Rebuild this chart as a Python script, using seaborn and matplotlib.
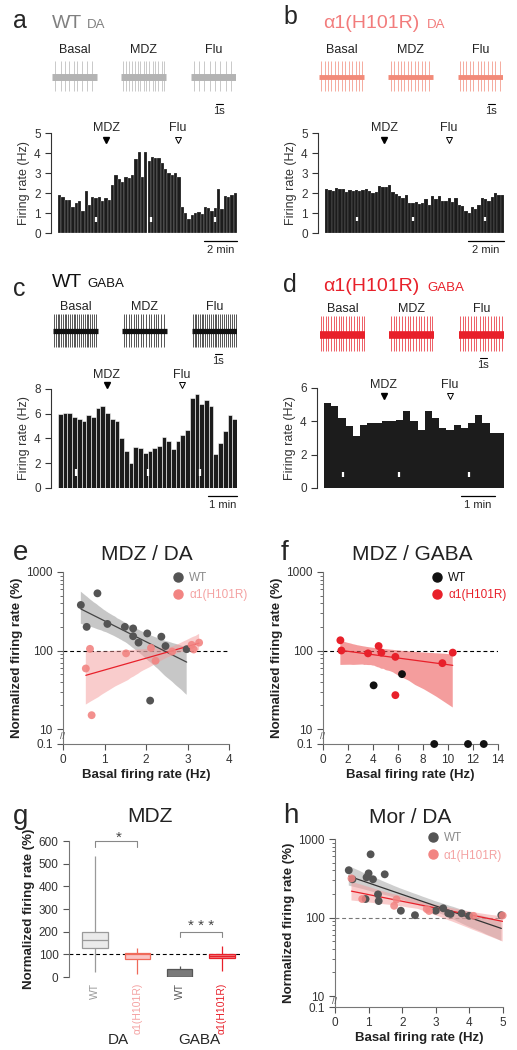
import numpy as np
import pandas as pd
import matplotlib
matplotlib.use("Agg")
import matplotlib.pyplot as plt
import seaborn as sns
from matplotlib.lines import Line2D

W, H = 517, 1050

# firing rate histograms (Hz per bin)
a_rate = [1.9, 1.8, 1.65, 1.65, 1.3, 1.5, 1.6, 1.1, 2.1, 1.4, 1.8, 1.75, 1.8, 1.6, 1.75, 1.65,
          2.4, 2.9, 2.7, 2.55, 2.8, 2.75, 2.9, 3.7, 4.05, 2.8, 4.05, 3.6, 3.8, 3.75, 3.75, 3.5,
          3.2, 3.0, 2.9, 3.0, 2.8, 1.3, 1.0, 0.7, 0.9, 1.0, 1.05, 0.95, 1.3, 1.25, 1.1, 1.25,
          2.2, 1.2, 1.85, 1.8, 1.9, 2.0]
b_rate = [2.2, 2.15, 2.1, 2.25, 2.2, 2.2, 2.05, 2.15, 2.1, 2.15, 2.1, 2.15, 2.2, 2.1, 2.0, 2.05,
          2.35, 2.3, 2.3, 2.4, 2.05, 1.95, 1.85, 1.75, 1.9, 1.5, 1.5, 1.55, 1.45, 1.5, 1.7, 1.4,
          1.85, 1.7, 1.85, 1.6, 1.6, 1.75, 1.55, 1.75, 1.4, 1.35, 1.1, 1.0, 1.3, 1.2, 1.4, 1.75,
          1.7, 1.6, 1.8, 2.0, 1.9, 1.9]
c_rate = [5.95, 6.1, 6.05, 5.75, 5.6, 5.45, 5.9, 5.7, 6.5, 6.6, 6.1, 5.55, 5.45, 4.05, 2.95,
          2.0, 3.3, 3.25, 2.85, 2.95, 3.2, 3.4, 4.1, 3.8, 3.15, 3.8, 4.25, 4.7, 7.3, 7.6, 6.8,
          7.15, 6.65, 2.75, 3.6, 4.6, 5.9, 5.6]
d_rate = [5.1, 4.9, 4.2, 3.7, 3.1, 3.8, 3.9, 3.9, 4.0, 4.0, 4.1, 4.6, 4.0, 3.5, 4.6, 4.2, 3.6,
          3.5, 3.8, 3.6, 3.9, 4.4, 3.9, 3.3, 3.3]

# spike times in the example traces (s)
a_spikes = [[0.5, 1.3, 1.9, 2.4, 3.2, 3.7, 4.4, 5.1, 5.8],
            [0.3, 0.8, 1.2, 1.6, 2.0, 2.5, 2.8, 3.3, 3.7, 4.1, 4.6, 5.0, 5.4, 5.9, 6.3],
            [0.4, 1.1, 1.9, 2.7, 3.5, 4.2, 5.0, 5.8]]
b_spikes = [[0.3, 0.8, 1.3, 1.8, 2.3, 2.8, 3.3, 3.8, 4.3, 4.8, 5.3, 5.8, 6.3],
            [0.4, 0.9, 1.4, 1.9, 2.4, 2.9, 3.4, 3.9, 4.4, 4.9, 5.4, 5.9],
            [0.2, 0.7, 1.2, 1.7, 2.2, 2.8, 3.3, 3.8, 4.3, 4.9, 5.4, 6.0]]
c_spikes = [[0.2, 0.4, 0.7, 0.9, 1.2, 1.4, 1.7, 1.9, 2.2, 2.5, 2.7, 3.0, 3.2, 3.5, 3.8, 4.0,
             4.3, 4.6, 4.9, 5.1, 5.4, 5.7, 6.0, 6.3],
            [0.3, 0.6, 1.0, 1.3, 1.7, 2.0, 2.4, 2.8, 3.1, 3.5, 3.9, 4.2, 4.6, 5.0, 5.3, 5.7, 6.1],
            [0.1, 0.35, 0.6, 0.9, 1.1, 1.4, 1.6, 1.9, 2.2, 2.4, 2.7, 3.0, 3.3, 3.5, 3.8, 4.1,
             4.3, 4.6, 4.9, 5.2, 5.5, 5.8, 6.1, 6.4]]
d_spikes = [[0.2, 0.5, 0.9, 1.2, 1.6, 2.0, 2.3, 2.7, 3.0, 3.4, 3.8, 4.2, 4.5, 4.9, 5.3, 5.7, 6.1, 6.4],
            [0.3, 0.7, 1.1, 1.5, 1.9, 2.3, 2.7, 3.1, 3.5, 3.9, 4.3, 4.7, 5.1, 5.5, 5.9, 6.3],
            [0.1, 0.5, 0.9, 1.3, 1.7, 2.1, 2.5, 3.0, 3.4, 3.8, 4.2, 4.6, 5.0, 5.4, 5.8, 6.2]]

# MDZ / DA
e_wt_x = [0.43, 0.83, 0.57, 1.07, 1.49, 1.69, 1.69, 1.82, 2.03, 2.37, 2.47, 2.98, 2.10]
e_wt_y = [380, 535, 200, 218, 200, 191, 152, 126, 165, 150, 114, 104, 23]
e_mut_x = [0.55, 0.65, 0.69, 1.52, 2.12, 2.23, 2.63, 3.10, 3.15, 3.28]
e_mut_y = [59, 105, 15, 92, 108, 74, 97, 118, 103, 126]
# MDZ / GABA
f_wt_x = [4.05, 6.32, 8.9, 11.6, 12.86]
f_wt_y = [36, 50, 0.1, 0.1, 0.1]
f_mut_x = [1.39, 1.47, 3.6, 4.45, 4.67, 5.79, 5.79, 9.55, 10.38]
f_mut_y = [135, 100, 92, 114, 94, 83, 27, 69, 94]
# Mor / DA
h_wt_x = [0.41, 1.06, 0.52, 1.00, 0.94, 1.13, 1.48, 1.28, 1.30, 0.91, 1.96, 2.38, 3.00, 3.22,
          3.37, 3.44, 3.77, 3.99, 4.95]
h_wt_y = [400, 638, 307, 365, 325, 307, 355, 197, 162, 172, 122, 107, 122, 131, 113, 111, 113,
          105, 107]
h_mut_x = [0.49, 0.81, 1.76, 1.83, 2.73, 2.80, 4.12, 4.99]
h_mut_y = [315, 172, 141, 170, 128, 121, 105, 106]

g_labels = ["WT", "α1(H101R)", "WT", "α1(H101R)"]

GRAY_PT = "#545454"
PINK = "#f28482"
RED = "#e8202a"

sns.set_style("ticks")
plt.rcParams["font.family"] = ["Liberation Sans", "DejaVu Sans"]
plt.rcParams["axes.linewidth"] = 0.8
plt.rcParams["xtick.labelsize"] = 8.5
plt.rcParams["ytick.labelsize"] = 8.5
plt.rcParams["xtick.color"] = "#555"
plt.rcParams["ytick.color"] = "#555"
plt.rcParams["xtick.labelcolor"] = "#333"
plt.rcParams["ytick.labelcolor"] = "#333"

fig = plt.figure(figsize=(W / 100, H / 100), dpi=100)


def box(x0, y0, x1, y1):
    return [x0 / W, 1 - y1 / H, (x1 - x0) / W, (y1 - y0) / H]


def ftext(x, y, s, **kw):
    kw.setdefault("va", "baseline")
    fig.text(x / W, 1 - y / H, s, **kw)


def traces(rect, spikes, color, band_lw, lbl_y, sb_x, sb_y, sb_ty):
    ax = fig.add_axes(rect)
    ax.set_xlim(0, 26.7)
    ax.set_ylim(-1, 1)
    ax.axis("off")
    tr = ax.get_xaxis_transform()
    for off, name, spk in zip([0, 10, 20.2], ["Basal", "MDZ", "Flu"], spikes):
        ax.plot([off, off + 6.5], [0, 0], color=color, lw=band_lw, solid_capstyle="butt")
        ax.vlines([off + t for t in spk], -0.85, 0.95, color=color, lw=0.5)
        ax.text(off + 3.25, lbl_y, name, transform=tr, ha="center", va="bottom",
                fontsize=9, color="#222")
    ax.plot([sb_x, sb_x + 1], [sb_y, sb_y], transform=tr, color="k", lw=0.8, clip_on=False)
    ax.text(sb_x + 0.5, sb_ty, "1s", transform=tr, ha="center", va="top", fontsize=8)


def firing_hist(rect, rates, ymax, step, mdz_x, flu_x, txt_y, arr_y, marks, mlo, mhi,
                sb, sb_label, gap_lw=0.0):
    ax = fig.add_axes(rect)
    n = len(rates)
    sns.barplot(x=list(range(n)), y=rates, orient="x", color="#1c1c1c", saturation=1,
                width=1.0, edgecolor="white", linewidth=gap_lw, ax=ax)
    ax.set_xlim(-0.5, n - 0.5)
    ax.set_ylim(0, ymax)
    ax.set_yticks(np.arange(0, ymax + 0.01, step))
    ax.set_xticks([])
    ax.set_xlabel("")
    ax.set_ylabel("Firing rate (Hz)", fontsize=9, color="#333", labelpad=3)
    for s in ["top", "right", "bottom"]:
        ax.spines[s].set_visible(False)
    ax.spines["left"].set_position(("outward", 5))
    ax.spines["left"].set_color("#333")
    ax.tick_params(axis="y", length=4, width=0.8, color="#333")
    ax.vlines(marks, mlo, mhi, color="white", lw=1.6)
    tr = ax.get_xaxis_transform()
    ax.text(mdz_x, txt_y, "MDZ", transform=tr, ha="center", va="center", fontsize=9)
    ax.text(flu_x, txt_y, "Flu", transform=tr, ha="center", va="center", fontsize=9)
    ax.plot([mdz_x], [arr_y], transform=tr, marker="v", ms=4.5, color="k", clip_on=False)
    ax.plot([flu_x], [arr_y], transform=tr, marker="v", ms=4.5, mfc="white", mec="k",
            mew=0.7, clip_on=False)
    ax.plot(sb, [-0.08, -0.08], transform=tr, color="k", lw=0.9, clip_on=False)
    ax.text(np.mean(sb), -0.17, sb_label, transform=tr, ha="center", va="center", fontsize=8)
    return ax


def log_panel(rect, k, xmax, xticks, groups, leg_anchor, leg_colors, dash_color):
    def fwd(v):
        lv = np.log10(np.asarray(v, dtype=float))
        return np.where(lv >= 1, lv, 1 + (lv - 1) * k)

    ax = fig.add_axes(rect)
    ax.axhline(fwd(100), color=dash_color, ls=(0, (3.5, 2.5)), lw=0.8, zorder=1)
    for g in groups:
        if g["fit"]:
            n0 = len(ax.collections)
            sns.regplot(x=np.asarray(g["x"]), y=fwd(g["y"]), scatter=False, ci=95, seed=0,
                        color=g["line"], line_kws={"lw": 0.9}, ax=ax)
            for coll in ax.collections[n0:]:
                coll.set_facecolor(g["band"])
                coll.set_edgecolor("none")
                coll.set_alpha(g["alpha"])
    for g in groups:
        sns.scatterplot(x=g["x"], y=fwd(g["y"]), color=g["pt"], s=32, edgecolor="none",
                        alpha=g["pa"], zorder=4, clip_on=False, ax=ax)
    ax.set_xlim(0, xmax)
    ax.set_xticks(xticks)
    ax.set_ylim(fwd(0.1), 3)
    ax.set_yticks(fwd([0.1, 10, 100, 1000]))
    ax.set_yticklabels(["0.1", "10", "100", "1000"])
    minor = [m * d for d in (10, 100) for m in range(2, 10)]
    ax.set_yticks(fwd(minor), minor=True)
    ax.tick_params(which="major", length=4, width=0.8)
    ax.tick_params(which="minor", length=2, width=0.6)
    for s in ["top", "right"]:
        ax.spines[s].set_visible(False)
    for s in ["left", "bottom"]:
        ax.spines[s].set_color("#777")
    ax.set_xlabel("Basal firing rate (Hz)", fontsize=9.5, fontweight="bold", color="#222",
                  labelpad=2)
    ax.set_ylabel("Normalized firing rate (%)", fontsize=9.5, fontweight="bold", color="#222",
                  labelpad=2)
    yb = (1 + float(fwd(0.1))) / 2
    ax.text(0, yb, "//", transform=ax.get_yaxis_transform(), ha="center", va="center",
            fontsize=6.5, color="#555")
    handles = [Line2D([], [], marker="o", ls="", color=g["pt"], ms=6.5) for g in groups]
    leg = ax.legend(handles, ["WT", "α1(H101R)"], loc="upper left", bbox_to_anchor=leg_anchor,
                    frameon=False, fontsize=8.5, handlelength=1, handletextpad=0.4,
                    labelspacing=0.45, borderpad=0, borderaxespad=0)
    for t, c in zip(leg.get_texts(), leg_colors):
        t.set_color(c)
    return ax


# ---- panel letters and titles ----
for x, y, s in [(13, 28, "a"), (283, 24, "b"), (13, 296, "c"), (283, 292, "d")]:
    ftext(x, y, s, fontsize=18)
for x, y, s in [(13, 560, "e"), (281, 560, "f"), (13, 824, "g"), (283, 823, "h")]:
    ftext(x, y, s, fontsize=20)

ftext(52, 28, "WT", fontsize=14, color="#808080")
ftext(87, 28, "DA", fontsize=9.5, color="#808080")
ftext(323, 28, "α1(H101R)", fontsize=14, color="#f27c7c")
ftext(427, 28, "DA", fontsize=9.5, color="#f27c7c")
ftext(52, 287, "WT", fontsize=14, color="#111")
ftext(87, 287, "GABA", fontsize=9.5, color="#111")
ftext(323, 291, "α1(H101R)", fontsize=14, color=RED)
ftext(427, 291, "GABA", fontsize=9.5, color=RED)

ftext(147, 560, "MDZ / DA", fontsize=15, ha="center", color="#222")
ftext(412, 560, "MDZ / GABA", fontsize=15, ha="center", color="#222")
ftext(150, 822, "MDZ", fontsize=15, ha="center", color="#222")
ftext(410, 823, "Mor / DA", fontsize=15, ha="center", color="#222")

# ---- traces ----
traces(box(52, 60, 236, 93), a_spikes, "#b3b3b3", 5.0, 1.12, 23.8, -0.33, -0.4)
traces(box(319, 60, 503, 93), b_spikes, "#f28a78", 3.5, 1.12, 24.5, -0.33, -0.4)
traces(box(53, 313, 237, 350), c_spikes, "#111111", 3.8, 1.0, 23.5, -0.1, -0.16)
traces(box(320, 315, 504, 354), d_spikes, RED, 5.5, 1.0, 23.2, -0.1, -0.16)

# ---- histograms ----
firing_hist(box(58, 133, 237, 233), a_rate, 5, 1, 14.0, 35.7, 1.05, 0.93,
            [11.0, 27.6, 47.0], 0.55, 0.8, [43.5, 53.5], "2 min", gap_lw=0.15)
firing_hist(box(325, 133, 504, 233), b_rate, 5, 1, 17.3, 36.9, 1.05, 0.93,
            [9.2, 26.1, 47.8], 0.6, 0.8, [42.5, 53.5], "2 min", gap_lw=0.1)
firing_hist(box(58, 389, 237, 488), c_rate, 8, 2, 9.9, 25.8, 1.14, 1.04,
            [3.3, 18.6, 29.6], 1.0, 1.5, [31.3, 37.5], "1 min", gap_lw=0.4)
firing_hist(box(324, 388, 504, 488), d_rate, 6, 2, 7.8, 17.0, 1.03, 0.92,
            [2.1, 9.9, 19.6], 0.65, 0.95, [18.5, 23.2], "1 min")

# ---- scatter panels ----
log_panel(box(63, 572, 229, 744), 0.0955, 4, [0, 1, 2, 3, 4],
          [dict(x=e_wt_x, y=e_wt_y, fit=True, line="#444444", band="#9a9a9a", alpha=0.55,
                pt=GRAY_PT, pa=1.0),
           dict(x=e_mut_x, y=e_mut_y, fit=True, line=RED, band="#f49a9a", alpha=0.5,
                pt=PINK, pa=0.9)],
          (0.66, 1.0), ["#8a8a8a", "#f4a2a2"], "k")
log_panel(box(323, 572, 498, 744), 0.0955, 14, [0, 2, 4, 6, 8, 10, 12, 14],
          [dict(x=f_wt_x, y=f_wt_y, fit=False, pt="#111111", pa=1.0),
           dict(x=f_mut_x, y=f_mut_y, fit=True, line=RED, band="#ee5c5c", alpha=0.6,
                pt=RED, pa=1.0)],
          (0.62, 1.0), ["#111111", RED], "k")
log_panel(box(335, 839, 503, 1007), 0.07, 5, [0, 1, 2, 3, 4, 5],
          [dict(x=h_wt_x, y=h_wt_y, fit=True, line="#333333", band="#a8a8a8", alpha=0.55,
                pt=GRAY_PT, pa=1.0),
           dict(x=h_mut_x, y=h_mut_y, fit=True, line=RED, band="#f49a9a", alpha=0.5,
                pt=PINK, pa=0.85)],
          (0.55, 1.04), ["#8a8a8a", "#f4a2a2"], "#777")

# ---- box plot (g) ----
g_vals = [e_wt_y, e_mut_y, f_wt_y, f_mut_y]
g_keys = ["DA WT", "DA mut", "GABA WT", "GABA mut"]
df = pd.DataFrame({"grp": [k for k, v in zip(g_keys, g_vals) for _ in v],
                   "val": [y for v in g_vals for y in v]})
fills = ["#ebebeb", "#f9c4c4", "#7a7a7a", "#f28585"]
edges = ["#9a9a9a", "#ef6a5a", "#555555", RED]
tick_colors = ["#9a9a9a", "#f4a2a2", "#555555", RED]

axg = fig.add_axes(box(69, 841, 240, 977))
axg.axhline(100, color="k", ls=(0, (3.5, 2.5)), lw=0.8, zorder=0)
for key, fc, ec in zip(g_keys, fills, edges):
    sns.boxplot(data=df[df["grp"] == key], x="grp", y="val", order=g_keys, color=fc,
                linecolor=ec, saturation=1, width=0.6, whis=(0, 100), showcaps=False,
                linewidth=0.9, ax=axg)
axg.set_xlim(-0.615, 3.43)
axg.set_ylim(0, 600)
axg.set_yticks(range(0, 601, 100))
axg.set_xticks(range(4))
axg.set_xticklabels(g_labels, rotation=90, fontsize=7.5)
for t, c in zip(axg.get_xticklabels(), tick_colors):
    t.set_color(c)
axg.tick_params(axis="x", length=0, pad=4)
axg.tick_params(axis="y", length=4, width=0.8)
axg.set_xlabel("")
axg.set_ylabel("Normalized firing rate (%)", fontsize=9.5, fontweight="bold", color="#222",
               labelpad=3)
for s in ["top", "right", "bottom"]:
    axg.spines[s].set_visible(False)
axg.spines["left"].set_color("#777")
axg.plot([0, 0, 1, 1], [575, 600, 600, 575], color="#888", lw=0.8, clip_on=False)
axg.text(0.55, 612, "*", ha="center", va="center", fontsize=11, color="#444")
axg.plot([2, 2, 3, 3], [178, 200, 200, 178], color="#888", lw=0.8, clip_on=False)
axg.text(2.5, 225, "* * *", ha="center", va="center", fontsize=11, color="#444")
ftext(118, 1044, "DA", fontsize=11, ha="center")
ftext(199, 1044, "GABA", fontsize=11, ha="center")

fig.savefig("out.png", dpi=100)
